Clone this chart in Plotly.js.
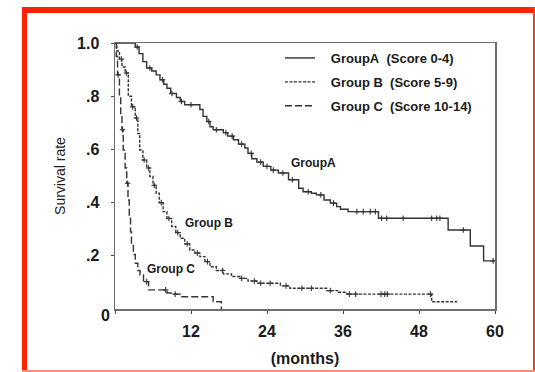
<!DOCTYPE html>
<html>
<head>
<meta charset="utf-8">
<script src="https://cdn.plot.ly/plotly-3.0.1.min.js"></script>
<style>html,body{margin:0;padding:0;background:#fff;} #chart{width:535px;height:372px;}</style>
</head>
<body>
<div id="chart"></div>
<script>
// ---- Data (Kaplan-Meier step curves) ----
const groupNames = ["\u00a0\u00a0\u00a0GroupA\u00a0 (Score 0-4)", "\u00a0\u00a0\u00a0Group B\u00a0 (Score 5-9)", "\u00a0\u00a0\u00a0Group C\u00a0 (Score 10-14)"];
const curveLabels = ["GroupA", "Group B", "Group C"];

const groupA_time = [0, 3.2, 3.8, 4.4, 5.0, 5.8, 6.5, 7.1, 7.7, 8.2, 8.8, 9.7, 10.3, 11.0, 13.4, 13.9, 14.5, 15.0, 15.5, 17.1, 17.8, 18.7, 19.5, 20.5, 21.0, 21.6, 22.4, 23.4, 24.6, 25.8, 27.4, 29.0, 29.7, 31.0, 31.8, 33.0, 34.0, 35.0, 35.6, 36.8, 41.6, 52.6, 56.1, 58.2, 60.0];
const groupA_surv = [1.0, 0.985, 0.96, 0.93, 0.906, 0.895, 0.88, 0.862, 0.845, 0.83, 0.81, 0.795, 0.78, 0.768, 0.75, 0.724, 0.705, 0.685, 0.674, 0.663, 0.65, 0.636, 0.62, 0.605, 0.585, 0.565, 0.552, 0.536, 0.522, 0.511, 0.486, 0.454, 0.441, 0.435, 0.429, 0.41, 0.398, 0.385, 0.375, 0.366, 0.341, 0.297, 0.237, 0.181, 0.181];
const groupA_censor = [3.5, 5.5, 7.5, 9.0, 10.5, 12.0, 14.8, 16.0, 17.5, 18.5, 20.0, 21.5, 23.0, 24.0, 25.0, 26.5, 28.0, 30.5, 32.5, 34.5, 38.2, 39.2, 40.3, 41.1, 42.1, 42.9, 45.5, 50.0, 50.8, 51.3, 55.0, 59.7];

const groupB_time = [0, 0.3, 0.7, 1.1, 1.6, 2.1, 2.6, 3.2, 3.6, 3.9, 4.4, 5.0, 5.5, 6.0, 6.5, 7.0, 7.6, 8.2, 8.95, 9.6, 10.3, 11.0, 11.8, 12.6, 13.4, 14.2, 15.0, 16.0, 17.1, 18.4, 19.7, 21.0, 22.4, 26.1, 27.6, 33.4, 35.3, 36.6, 50.0, 54.0];
const groupB_surv = [1.0, 0.97, 0.94, 0.91, 0.887, 0.80, 0.76, 0.718, 0.66, 0.598, 0.56, 0.53, 0.498, 0.465, 0.435, 0.40, 0.366, 0.34, 0.31, 0.287, 0.266, 0.245, 0.222, 0.21, 0.197, 0.178, 0.159, 0.145, 0.132, 0.122, 0.115, 0.105, 0.097, 0.087, 0.078, 0.069, 0.063, 0.056, 0.027, 0.027];
const groupB_censor = [1.0, 1.8, 2.8, 3.4, 4.6, 5.3, 6.2, 7.3, 8.5, 9.9, 11.4, 13.0, 14.6, 17.0, 20.0, 22.0, 23.0, 24.5, 27.0, 29.5, 31.0, 34.0, 37.0, 38.0, 42.0, 42.6, 43.0, 49.8];

const groupC_time = [0, 0.2, 0.4, 0.7, 0.9, 1.1, 1.3, 1.6, 1.85, 2.05, 2.25, 2.45, 2.6, 2.9, 3.2, 3.6, 3.95, 4.5, 5.3, 8.2, 9.0, 10.3, 15.5, 16.8];
const groupC_surv = [1.0, 0.95, 0.88, 0.80, 0.73, 0.674, 0.598, 0.53, 0.473, 0.41, 0.347, 0.29, 0.247, 0.205, 0.172, 0.145, 0.128, 0.103, 0.072, 0.06, 0.056, 0.046, 0.027, 0.0];
const groupC_censor = [0.5, 1.2, 2.0, 5.0, 8.0, 9.5];

const xTickVals = [0, 12, 24, 36, 48, 60];
const xTickText = ["", "12", "24", "36", "48", "60"];
const yTickVals = [0.2, 0.4, 0.6, 0.8, 1.0];
const yTickText = [".2", ".4", ".6", ".8", "1.0"];

// ---- helpers ----
function stepValue(times, surv, t) {
  let v = surv[0];
  for (let i = 0; i < times.length; i++) { if (times[i] <= t) v = surv[i]; }
  return v;
}
const lineColor = "#333333";
const dashes = ["solid", "3px,1.5px", "7px,3px"];
const sets = [
  [groupA_time, groupA_surv, groupA_censor],
  [groupB_time, groupB_surv, groupB_censor],
  [groupC_time, groupC_surv, groupC_censor]
];
const traces = [];
sets.forEach((s, i) => {
  traces.push({
    x: s[0], y: s[1], type: "scatter", mode: "lines", name: groupNames[i],
    line: {shape: "hv", color: lineColor, width: 1.4, dash: dashes[i]},
    legendgroup: "g" + i, hoverinfo: "skip"
  });
});
sets.forEach((s, i) => {
  traces.push({
    x: s[2], y: s[2].map(t => stepValue(s[0], s[1], t)), type: "scatter", mode: "markers",
    marker: {symbol: "cross-thin-open", size: 4, color: lineColor, line: {width: 1.1, color: lineColor}},
    showlegend: false, legendgroup: "g" + i, hoverinfo: "skip"
  });
});

// pixel -> paper helpers for decorative frame
const L = 115, R = 40, T = 43, B = 63, W = 535, H = 372;
const pw = W - L - R, ph = H - T - B;
const px = x => (x - L) / pw;
const py = y => (H - B - y) / ph;
function rect(x0, y0, x1, y1, color) {
  return {type: "rect", xref: "paper", yref: "paper", x0: px(x0), x1: px(x1), y0: py(y1), y1: py(y0),
          fillcolor: color, line: {width: 0}, layer: "above"};
}

const tickFont = {family: "Liberation Sans, Arial, sans-serif", size: 16, color: "#1a1a1a", weight: "bold"};
const annFont = {family: "Liberation Sans, Arial, sans-serif", size: 12, color: "#1a1a1a", weight: "bold"};

const layout = {
  width: W, height: H,
  margin: {l: L, r: R, t: T, b: B, pad: 0},
  paper_bgcolor: "#fff", plot_bgcolor: "#fff",
  showlegend: true,
  legend: {
    x: px(280), y: py(43), xanchor: "left", yanchor: "top",
    bgcolor: "rgba(0,0,0,0)", borderwidth: 0, tracegroupgap: 4,
    font: {family: "Liberation Sans, Arial, sans-serif", size: 13, color: "#1a1a1a", weight: "bold"}
  },
  xaxis: {
    range: [0, 60], tickvals: xTickVals, ticktext: xTickText,
    showgrid: false, zeroline: false, showline: true, mirror: true,
    linecolor: "#6e6e6e", linewidth: 1.5, ticks: "outside", ticklen: 3, tickcolor: "#444",
    tickfont: tickFont, ticklabelstandoff: 4,
    title: {text: "(months)", font: {family: "Liberation Sans, Arial, sans-serif", size: 16, color: "#1a1a1a", weight: "bold"}, standoff: 14},
    fixedrange: true
  },
  yaxis: {
    range: [0, 1.0], tickvals: yTickVals, ticktext: yTickText,
    showgrid: false, zeroline: false, showline: true, mirror: true,
    linecolor: "#6e6e6e", linewidth: 1.5, ticks: "outside", ticklen: 3, tickcolor: "#444",
    tickfont: tickFont, ticklabelstandoff: 8,
    title: {text: "Survival rate", font: {family: "Liberation Sans, Arial, sans-serif", size: 14, color: "#1a1a1a"}, standoff: 8},
    fixedrange: true
  },
  annotations: [
    {x: 31.3, y: 0.55, xref: "x", yref: "y", text: curveLabels[0], showarrow: false, font: annFont},
    {x: 14.9, y: 0.325, xref: "x", yref: "y", text: curveLabels[1], showarrow: false, font: annFont},
    {x: 8.9, y: 0.15, xref: "x", yref: "y", text: curveLabels[2], showarrow: false, font: annFont},
    {x: px(99), y: py(326), xref: "paper", yref: "paper", text: "0", showarrow: false, font: tickFont}
  ],
  shapes: [
    rect(22, 7, 535, 13, "#ff2200"),
    rect(22, 7, 27, 372, "#ff2200"),
    rect(533, 7, 535, 372, "#ff3a1a"),
    rect(22, 370, 535, 372, "#f4907a")
  ]
};

Plotly.newPlot("chart", traces, layout, {staticPlot: true, displayModeBar: false});
</script>
</body>
</html>
